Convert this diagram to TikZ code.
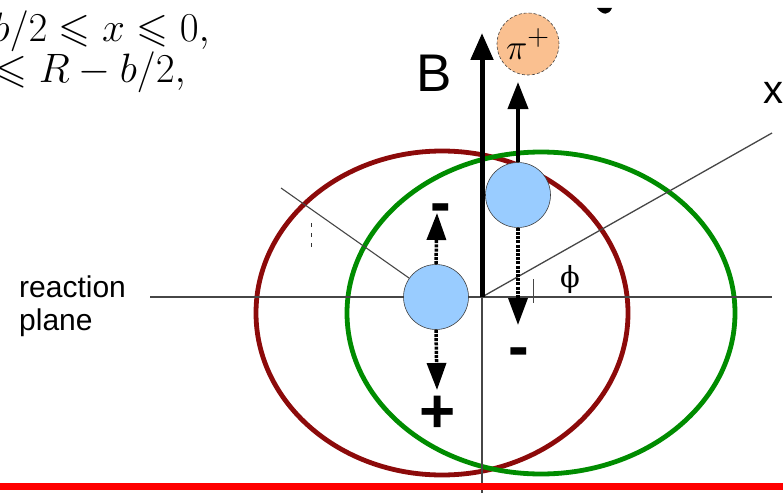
\documentclass[tikz,border=0pt]{standalone}
\usepackage{fontspec}
\setmainfont{Liberation Sans}
\newfontfamily\serifgreek{DejaVu Serif}
\usepackage{amssymb}
\usepackage{graphicx}
\usetikzlibrary{arrows.meta}
\definecolor{dred}{RGB}{140,10,10}
\definecolor{dgreen}{RGB}{0,140,0}
\definecolor{lblue}{RGB}{153,204,255}
\definecolor{lorange}{RGB}{250,192,144}
\definecolor{axisgray}{RGB}{70,70,70}
\tikzset{
  ring/.style={line width=4.8pt},
  axisline/.style={draw=axisgray, line width=1.3pt},
  particle/.style={circle, draw=black!75, line width=0.6pt, fill=lblue, minimum size=65pt, inner sep=0pt},
  pion/.style={circle, draw=black!75, densely dashed, line width=0.6pt, fill=lorange, minimum size=62pt, inner sep=0pt},
  bigarrow/.style={line width=5pt, -{Triangle[length=27pt,width=22pt]}},
  solidarrow/.style={line width=4pt, -{Triangle[length=27pt,width=20pt]}},
  dotarrow/.style={line width=3.5pt, dash pattern=on 3pt off 1.2pt, -{Triangle[length=27pt,width=19pt]}},
  sign/.style={font=\fontsize{62}{62}\selectfont\bfseries, inner sep=0pt},
  eqtext/.style={inner sep=0pt, anchor=base east},
}
\newcommand{\bigmath}[2]{\scalebox{#1}{\fontsize{24.88}{30}\selectfont$#2$}}
\begin{document}
\begin{tikzpicture}[x=1pt,y=-1pt]
\useasboundingbox (0,0) rectangle (783,492);
\clip (0,0) rectangle (783,492);
% equations (cut at left edge)
\node[eqtext] (eq1) at (210,42) {\bigmath{1.65}{-R+b/2 \leqslant x \leqslant 0,}};
\node[eqtext] (eq2) at (186,83) {\bigmath{1.65}{0 \leqslant x \leqslant R-b/2,}};
% top partial blob
\fill (597,8) .. controls (603,16) and (609,15) .. (612,8) -- cycle;
% ellipses
\draw[ring, dred] (442,313) ellipse [x radius=186pt, y radius=162pt];
\draw[ring, dgreen] (541,313) ellipse [x radius=194pt, y radius=161pt];
% axes
\coordinate (O) at (482,297);
\coordinate (rpL) at (150,297);
\coordinate (rpR) at (772,297);
\coordinate (xend) at (772,133);
\coordinate (vbot) at (482,495);
\draw[axisline] (rpL) -- (rpR);
\draw[axisline] (O) -- (vbot);
\draw[axisline] (O) -- (xend);
% tick near phi and small dashed mark
\coordinate (tk1) at (533,279);
\coordinate (tk2) at (533,303);
\draw[draw=axisgray, line width=1pt] (tk1) -- (tk2);
\coordinate (dm1) at (311,223);
\coordinate (dm2) at (311,248);
\draw[black!80, line width=1pt, dash pattern=on 4pt off 6pt] (dm1) -- (dm2);
% particles
\node[particle] (pL) at (436,297) {};
\node[particle] (pR) at (518,195) {};
\node[pion] (pi) at (528,44) {};
\node[inner sep=0pt] (pilab) at (528,44) {\bigmath{1.45}{\pi^{+}}};
% radius line to red ellipse
\coordinate (redpt) at (281,188);
\draw[axisline, line width=1.1pt] (pL) -- (redpt);
% B field arrow
\coordinate (Btip) at (482,33);
\draw[bigarrow] (O) -- (Btip);
\node[font=\fontsize{53}{53}\selectfont, anchor=base, inner sep=0pt] (Blab) at (434,92) {B};
% arrow to pion
\coordinate (piin) at (518,82);
\draw[solidarrow] (pR.north) -- (piin);
% dotted arrows
\coordinate (upL) at (437,213);
\coordinate (dnL) at (437,390);
\coordinate (dnR) at (518,325);
\draw[dotarrow] (pL.north) -- (upL);
\draw[dotarrow] (pL.south) -- (dnL);
\draw[dotarrow] (pR.south) -- (dnR);
% signs
\node[sign] (mL) at (441,214) {-};
\node[sign] (pl) at (438,414) {+};
\node[sign] (mR) at (519,358) {-};
% labels
\node[font=\fontsize{29}{29}\selectfont\serifgreek, inner sep=0pt] (phi) at (570,279) {ϕ};
\node[font=\fontsize{40}{40}\selectfont, anchor=base west, inner sep=0pt] (xlab) at (763,103) {x};
\node[font=\fontsize{30}{33}\selectfont, anchor=base west, inner sep=0pt, align=left] (rp) at (19,330) {reaction\\plane};
% red bar
\fill[red] (0,483) rectangle (783,490);
\end{tikzpicture}
\end{document}
